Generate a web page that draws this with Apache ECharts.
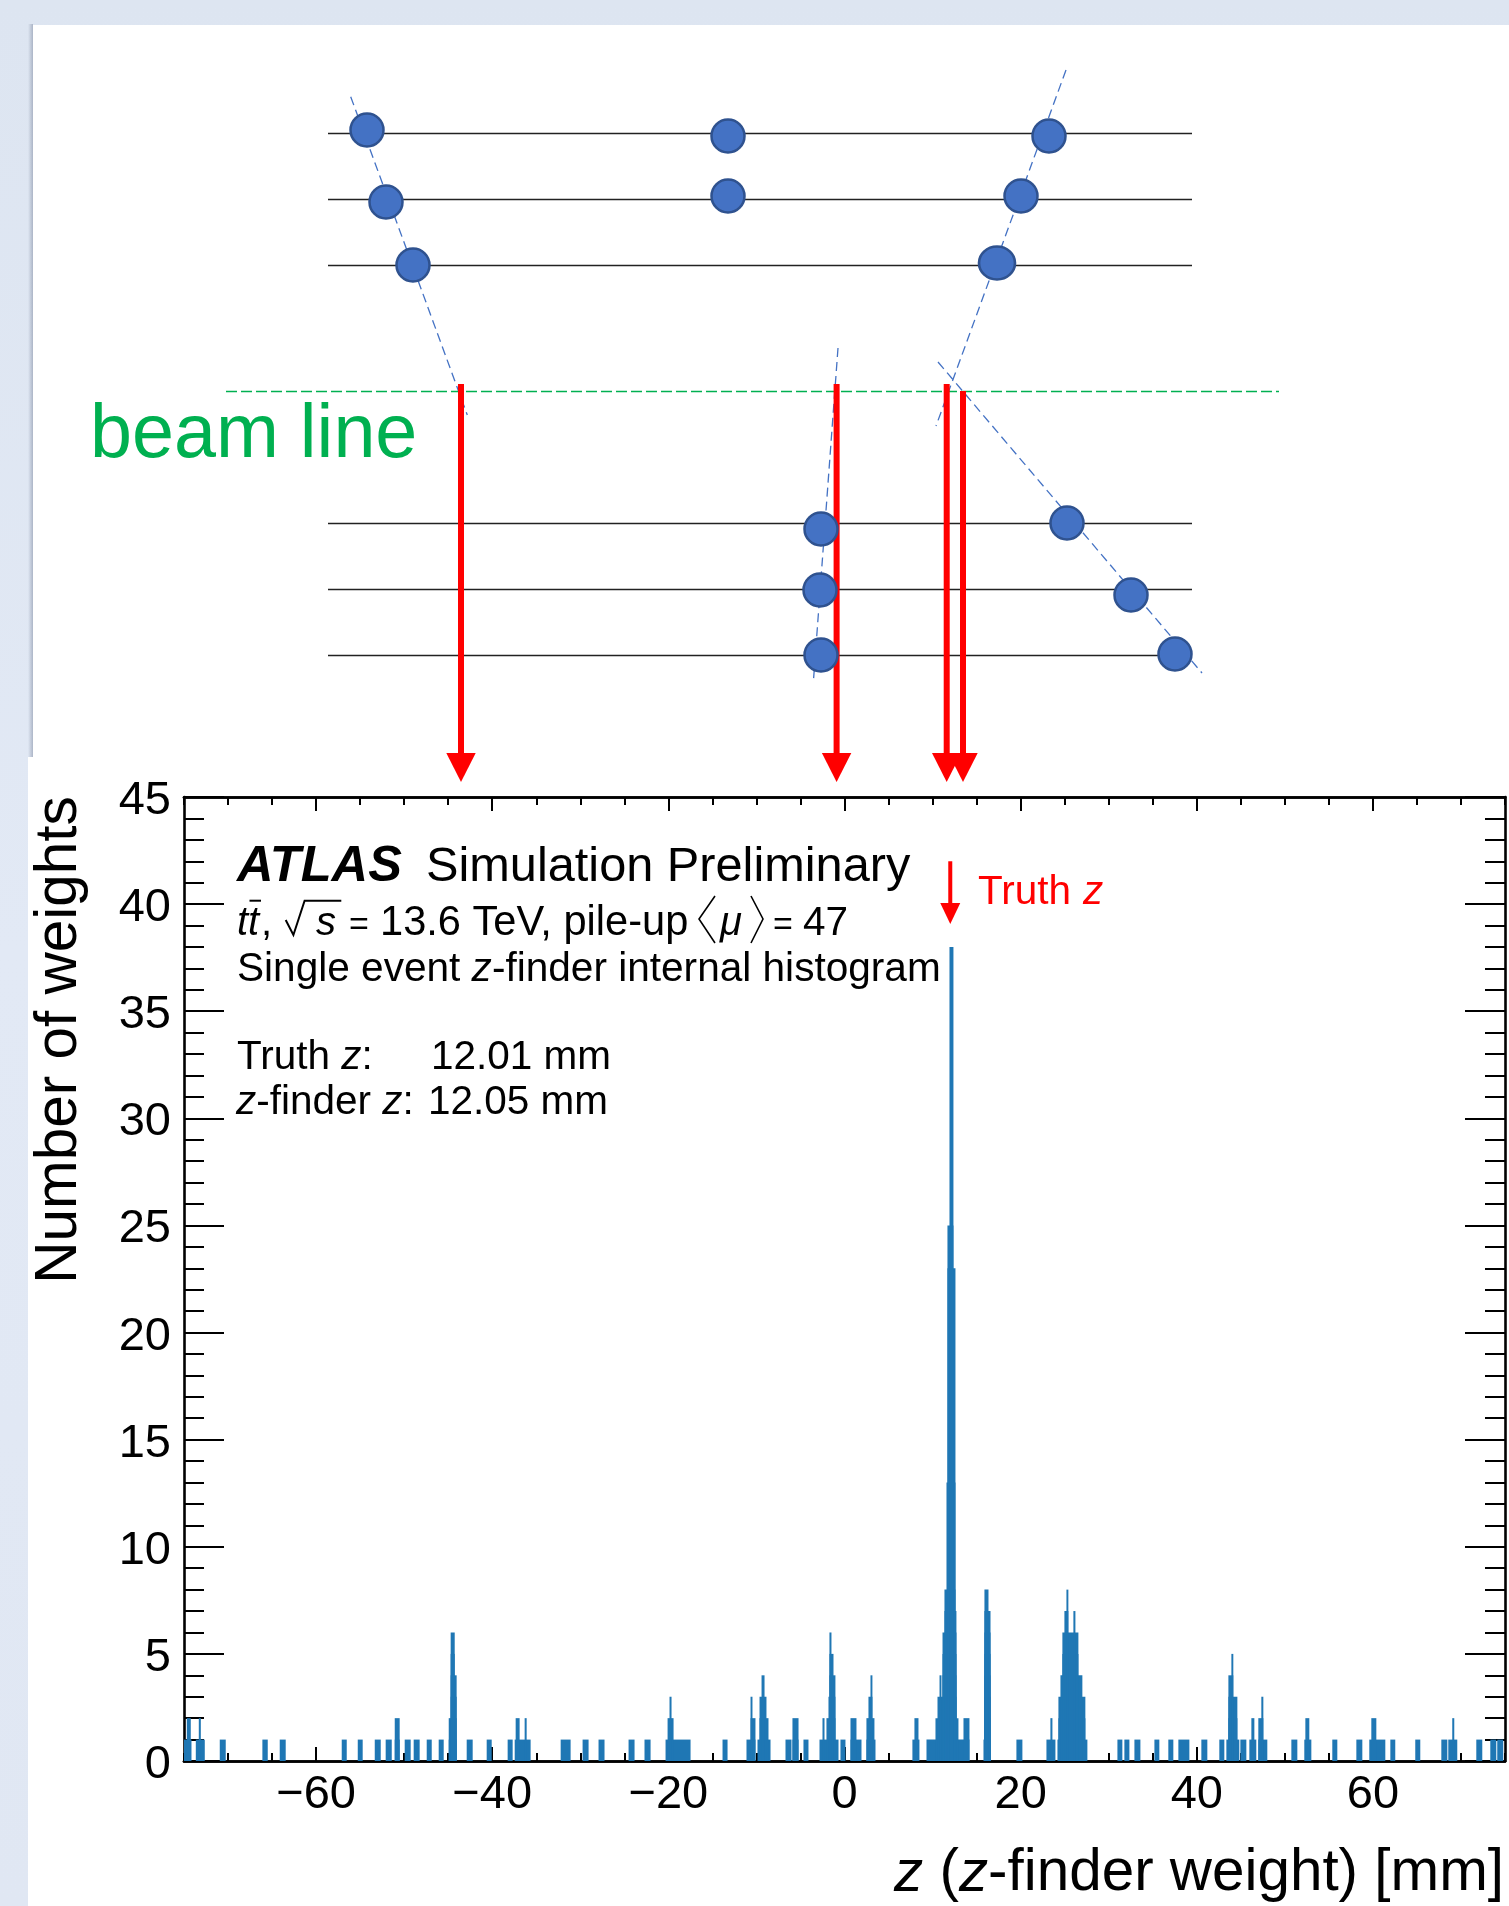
<!DOCTYPE html>
<html>
<head>
<meta charset="utf-8">
<title>z-finder internal histogram</title>
<script src="https://cdn.jsdelivr.net/npm/echarts@6/dist/echarts.min.js"></script>
<style>
  html, body { margin: 0; padding: 0; background: #dfe6f2; }
  #chart { width: 1509px; height: 1906px; }
</style>
</head>
<body>
<div id="chart"></div>
<script>
// Histogram: each list holds the z ranges [mm] where the
// number of weights reaches that height
const atLeast1 = [[-75,-74.15],[-73.66,-72.64],[-70.94,-70.26],[-66.10,-65.49],[-64.13,-63.45],[-57.09,-56.52],[-55.27,-54.71],[-53.34,-52.66],[-52.10,-51.41],[-51.07,-50.51],[-49.94,-49.26],[-48.92,-48.24],[-47.44,-46.87],[-46.08,-45.51],[-44.94,-44.04],[-42.90,-42.22],[-40.63,-40.06],[-38.25,-37.68],[-37.45,-35.64],[-32.23,-31.10],[-29.74,-29.06],[-27.93,-27.25],[-24.52,-23.84],[-22.71,-22.02],[-20.32,-17.48],[-13.85,-13.28],[-11.13,-10.11],[-9.88,-8.40],[-6.70,-6.02],[-5.91,-5.22],[-4.66,-4.09],[-2.84,-0.68],[-0.46,0.11],[0.68,1.93],[2.49,3.52],[7.71,8.51],[9.31,14.19],[15.78,16.58],[19.52,20.20],[22.93,23.95],[24.18,27.58],[30.99,31.55],[31.78,32.35],[32.92,33.60],[35.19,35.75],[36.77,37.34],[37.91,39.16],[40.52,41.20],[42.56,43.13],[43.36,44.83],[44.95,45.63],[45.97,46.76],[46.99,48.01],[50.74,51.42],[52.21,53.01],[55.39,55.96],[58.12,58.80],[59.59,61.41],[61.98,62.54],[64.81,65.38],[67.77,68.45],[68.56,69.58],[71.74,72.42],[73.33,74.01],[74.12,74.80]];
const atLeast2 = [[-74.68,-74.23],[-73.32,-73.09],[-51.07,-50.51],[-44.94,-44.04],[-37.34,-36.89],[-36.32,-36.09],[-20.09,-19.41],[-10.67,-10.11],[-9.65,-8.63],[-5.91,-5.22],[-2.50,-2.27],[-2.05,-1.03],[0.68,1.36],[2.49,3.40],[7.94,8.40],[10.33,12.94],[13.51,14.19],[15.89,16.58],[23.38,23.61],[24.29,27.35],[43.59,44.61],[46.20,46.54],[46.99,47.56],[52.33,52.78],[59.82,60.39],[69.01,69.24]];
const atLeast3 = [[-44.72,-44.04],[-19.87,-19.64],[-10.67,-10.45],[-9.65,-8.86],[-1.82,-1.03],[2.72,3.17],[10.56,12.72],[15.89,16.58],[24.29,27.35],[43.59,44.61],[47.33,47.56]];
const atLeast4 = [[-44.72,-44.04],[-9.42,-9.08],[-1.71,-1.03],[2.95,3.17],[10.79,11.01],[11.13,12.71],[15.89,16.58],[24.52,27.01],[43.59,44.15]];
const atLeast5 = [[-44.72,-44.26],[-1.71,-1.25],[11.13,12.71],[15.89,16.58],[24.74,26.56],[43.93,44.15]];
const atLeast6 = [[-44.72,-44.26],[-1.71,-1.48],[11.13,12.71],[15.89,16.58],[24.74,26.56]];
const atLeast7 = [[11.35,12.71],[15.89,16.58],[24.97,25.42],[25.99,26.22]];
const atLeast8 = [[11.35,12.60],[15.89,16.35],[25.20,25.42]];
const atLeast13 = [[11.58,12.60]];
const atLeast23 = [[11.69,12.60]];
const atLeast25 = [[11.69,12.37]];
const atLeast38 = [[11.92,12.37]];

const histLevels = [1, 2, 3, 4, 5, 6, 7, 8, 13, 23, 25, 38];
const histRuns = [atLeast1, atLeast2, atLeast3, atLeast4, atLeast5, atLeast6, atLeast7, atLeast8, atLeast13, atLeast23, atLeast25, atLeast38];

// Axis ticks
const zMajorTicks = [-60, -40, -20, 0, 20, 40, 60];
// Truth z marker: z, then top / head base / tip on the weight scale
const truthArrow = [[12.01, 42.0, 40.05, 39.07]];

// Sketch above the plot, in page units
const layerRows = [133.3, 199.3, 265.3, 523, 589, 655];
const hitPoints = [[367,130],[386,202],[413,265],[728,136],[728,196],[1049,136],[1021,196],[821,529],[820,590],[821,655],[1067,523],[1131,595],[1175,654]];
const wideHitPoints = [[997,263]];
const trackLines = [[[350.7,96.7],[467.3,415]],[[1066,70],[936,426]],[[838,348],[813.5,680]],[[938,362],[1202,673]]];
const beamLine = [[226,391],[1279,391]];
const projectionArrows = [[461,384,753,782],[836.6,384,753,782],[946.7,384,753,782],[963,391,753,782]];

const histRows = [];
histRuns.forEach((runs, i) => {
  runs.forEach(r => histRows.push([r[0], r[1], histLevels[i]]));
});

const FONT = '"Liberation Sans", Arial, sans-serif';
const RED = '#ff0000';

function renderBar(params, api) {
  const a = api.coord([api.value(0), api.value(2)]);
  const b = api.coord([api.value(1), 0]);
  return {
    type: 'rect',
    shape: { x: a[0], y: a[1], width: b[0] - a[0], height: b[1] - a[1] },
    style: { fill: '#1f77b4' }
  };
}

// data row: x, top, head base, tip
function arrowRenderer(shaft, head) {
  return function (params, api) {
    const x = api.value(0);
    const top = api.coord([x, api.value(1)]);
    const base = api.coord([x, api.value(2)]);
    const tip = api.coord([x, api.value(3)]);
    return {
      type: 'group',
      children: [
        { type: 'rect', shape: { x: top[0] - shaft / 2, y: top[1], width: shaft, height: base[1] - top[1] }, style: { fill: RED } },
        { type: 'polygon', shape: { points: [[base[0] - head, base[1]], [base[0] + head, base[1]], [tip[0], tip[1]]] }, style: { fill: RED } }
      ]
    };
  };
}

// text placed by its baseline
function text(x, baseline, str, size, extra) {
  const style = Object.assign({
    text: str,
    x: x,
    y: baseline - size * 0.25,
    fill: '#000',
    font: size + 'px ' + FONT,
    textAlign: 'left',
    textVerticalAlign: 'middle'
  }, extra || {});
  return { type: 'text', z: 20, silent: true, style: style };
}

function stroke(points, width) {
  return { type: 'polyline', z: 20, silent: true, shape: { points: points }, style: { stroke: '#000', lineWidth: width || 1.6, fill: null } };
}

function richItalic(size) {
  return {
    n: { font: size + 'px ' + FONT, fill: '#000' },
    i: { font: 'italic ' + size + 'px ' + FONT, fill: '#000' }
  };
}

const spineLine = { show: true, onZero: false, lineStyle: { color: '#000', width: 2.6 } };

function zAxis(position, major) {
  const axis = {
    type: 'value',
    gridIndex: 0,
    position: position,
    min: -75,
    max: 75,
    axisLine: spineLine,
    splitLine: { show: false },
    axisLabel: { show: false }
  };
  if (major) {
    axis.axisTick = { show: true, inside: true, length: 14, lineStyle: { color: '#000', width: 2 }, customValues: zMajorTicks };
  } else {
    axis.interval = 5;
    axis.axisTick = { show: true, inside: true, length: 8, lineStyle: { color: '#000', width: 2 } };
  }
  return axis;
}

function weightAxis(position) {
  return {
    type: 'value',
    gridIndex: 0,
    position: position,
    min: 0,
    max: 45,
    interval: 5,
    axisLine: spineLine,
    axisTick: { show: true, inside: true, length: 40, lineStyle: { color: '#000', width: 2 } },
    minorTick: { show: true, splitNumber: 5, length: 20, lineStyle: { color: '#000', width: 2 } },
    splitLine: { show: false },
    axisLabel: position === 'left'
      ? { show: true, margin: 13, color: '#000', fontSize: 47, fontFamily: FONT, verticalAlign: 'top', lineHeight: 8 }
      : { show: false }
  };
}

const bottomMajor = zAxis('bottom', true);
bottomMajor.axisLabel = {
  show: true,
  customValues: zMajorTicks,
  margin: 11,
  color: '#000',
  fontSize: 47,
  fontFamily: FONT,
  formatter: v => String(v).replace('-', '\u2212')
};

const chart = echarts.init(document.getElementById('chart'), null, { renderer: 'canvas' });

chart.setOption({
  animation: false,
  backgroundColor: 'transparent',
  grid: [
    { left: 184, top: 797, width: 1321, height: 964, containLabel: false },
    { left: 0, top: 0, width: 1509, height: 1906, containLabel: false }
  ],
  xAxis: [
    bottomMajor,
    zAxis('bottom', false),
    zAxis('top', true),
    zAxis('top', false),
    { type: 'value', gridIndex: 1, min: 0, max: 1509, show: false }
  ],
  yAxis: [
    weightAxis('left'),
    weightAxis('right'),
    { type: 'value', gridIndex: 1, min: 0, max: 1906, inverse: true, show: false }
  ],
  graphic: [
    // slide background and the two white sheets
    { type: 'rect', z: -3, silent: true, shape: { x: 0, y: 0, width: 1509, height: 1906 }, style: { fill: new echarts.graphic.LinearGradient(0, 0, 0, 1, [{ offset: 0, color: '#dde5f1' }, { offset: 0.5, color: '#e2e9f5' }, { offset: 1, color: '#e0e7f3' }]) } },
    { type: 'rect', z: -2, silent: true, shape: { x: 28, y: 24, width: 5, height: 733 }, style: { fill: new echarts.graphic.LinearGradient(0, 0, 1, 0, [{ offset: 0, color: 'rgba(150,160,180,0)' }, { offset: 1, color: 'rgba(150,160,180,0.7)' }]) } },
    { type: 'rect', z: -1, silent: true, shape: { x: 33, y: 25, width: 1476, height: 733 }, style: { fill: '#fff' } },
    { type: 'rect', z: -1, silent: true, shape: { x: 28, y: 757, width: 1481, height: 1149 }, style: { fill: '#fff' } },

    text(90, 455, 'beam line', 75.5, { fill: '#00b050' }),

    // ATLAS label
    text(237, 880, 'ATLAS', 50.6, { font: 'italic bold 50.6px ' + FONT }),
    text(426, 880, 'Simulation Preliminary', 48.7),

    text(237, 934, 'tt', 40, { font: 'italic 40px ' + FONT }),
    stroke([[249.5, 900.7], [261, 900.7]], 2),
    text(261, 934, ',', 40),
    stroke([[285.7, 920], [293.4, 935], [304.6, 900.7], [341.3, 900.7]], 2),
    text(316, 934, 's', 40, { font: 'italic 40px ' + FONT }),
    text(349, 934, '=', 34),
    text(380, 934, '13.6 TeV, pile-up', 41.6),
    stroke([[715, 896], [699, 919], [715, 943]]),
    text(720, 934, '\u03bc', 40, { font: 'italic 40px ' + FONT }),
    stroke([[751, 896], [763, 919], [751, 943]]),
    text(773, 934, '=', 34),
    text(803, 934, '47', 40.5),

    text(237, 980, '{n|Single event }{i|z}{n|-finder internal histogram}', 40.6, { rich: richItalic(40.6) }),
    text(237, 1068, '{n|Truth }{i|z}{n|:}', 40.5, { rich: richItalic(40.5) }),
    text(431, 1068, '12.01 mm', 40.5),
    text(236, 1113, '{i|z}{n|-finder }{i|z}{n|:}', 40.5, { rich: richItalic(40.5) }),
    text(428, 1113, '12.05 mm', 40.5),

    text(978, 903, 'Truth ', 40.5, { fill: RED }),
    text(1083, 903, 'z', 40.5, { fill: RED, font: 'italic 40.5px ' + FONT }),

    // axis titles
    {
      type: 'text', z: 20, silent: true, x: 60, y: 1040, rotation: Math.PI / 2,
      style: { text: 'Number of weights', font: '58.5px ' + FONT, fill: '#000', textAlign: 'center', textVerticalAlign: 'middle' }
    },
    text(1504, 1889, '{i|z}{n| (}{i|z}{n|-finder weight) [mm]}', 58.4, { rich: richItalic(58.4), textAlign: 'right' })
  ],
  series: [
    {
      name: 'layers',
      type: 'lines',
      coordinateSystem: 'cartesian2d',
      xAxisIndex: 4,
      yAxisIndex: 2,
      silent: true,
      lineStyle: { color: '#222', width: 1.4, opacity: 1 },
      data: layerRows.map(y => ({ coords: [[328, y], [1192, y]] }))
    },
    {
      name: 'tracks',
      type: 'lines',
      coordinateSystem: 'cartesian2d',
      xAxisIndex: 4,
      yAxisIndex: 2,
      silent: true,
      lineStyle: { color: '#4472c4', width: 1.3, type: [9, 5], opacity: 1 },
      data: trackLines.map(t => ({ coords: t }))
    },
    {
      name: 'beam',
      type: 'lines',
      coordinateSystem: 'cartesian2d',
      xAxisIndex: 4,
      yAxisIndex: 2,
      silent: true,
      lineStyle: { color: '#00b050', width: 1.3, type: [11, 4], opacity: 1 },
      data: [{ coords: beamLine }]
    },
    {
      name: 'hits',
      type: 'scatter',
      xAxisIndex: 4,
      yAxisIndex: 2,
      silent: true,
      symbol: 'circle',
      symbolSize: 33,
      itemStyle: { color: '#4472c4', borderColor: '#2f528f', borderWidth: 2.5, opacity: 1 },
      data: hitPoints
    },
    {
      name: 'wide hits',
      type: 'scatter',
      xAxisIndex: 4,
      yAxisIndex: 2,
      silent: true,
      symbol: 'circle',
      symbolSize: [36, 33],
      itemStyle: { color: '#4472c4', borderColor: '#2f528f', borderWidth: 2.5, opacity: 1 },
      data: wideHitPoints
    },
    {
      name: 'projections',
      type: 'custom',
      xAxisIndex: 4,
      yAxisIndex: 2,
      silent: true,
      clip: false,
      renderItem: arrowRenderer(6, 14.7),
      data: projectionArrows
    },
    {
      name: 'z-finder weights',
      type: 'custom',
      xAxisIndex: 0,
      yAxisIndex: 0,
      silent: true,
      encode: { x: [0, 1], y: 2 },
      renderItem: renderBar,
      data: histRows
    },
    {
      name: 'Truth z',
      type: 'custom',
      xAxisIndex: 0,
      yAxisIndex: 0,
      silent: true,
      clip: false,
      renderItem: arrowRenderer(4, 10),
      data: truthArrow
    }
  ]
});
</script>
</body>
</html>
